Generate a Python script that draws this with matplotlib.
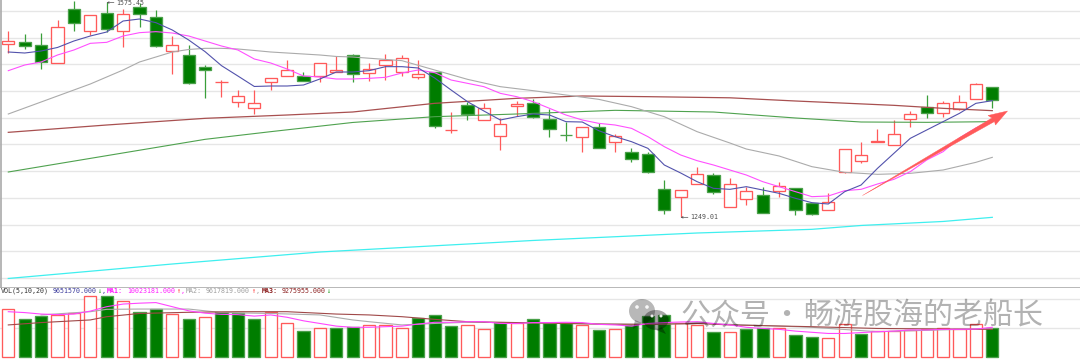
import matplotlib
matplotlib.use("Agg")
import matplotlib.pyplot as plt
from matplotlib.patches import Polygon, Ellipse
from matplotlib.transforms import Affine2D

UP = "#ff5a5a"
DOWN = "#007d00"

# bar numbers 1..61
opens = [1508.5,1512,1507,1481,1562,1528.5,1556,1528.5,1565,1550,1499,1492,1474,1451.5,1421.5,1413.5,1451.5,1461.5,1461,1461.5,1467.5,1492,
         1466,1478,1466.5,1459,1467.5,1379.3,1418,1394.5,1371.5,1415.5,1420,1396,1373,1369,1385,1362.5,1347,1343.5,1291.5,1280,1298.5,1312.5,
         1264,1277,1282.5,1289,1293.5,1270,1260,1316.5,1334,1362,1357,1397,1414,1405,1411.5,1426,1444]
closes = [1513,1505.5,1482,1534,1540.5,1553,1531.5,1554.5,1553.5,1506.5,1508,1450,1469.5,1452.5,1431,1421,1457.5,1469.5,1453.5,1480,1469.5,1464,
          1472,1485,1487.5,1464,1386.5,1380,1404,1412.5,1389,1419,1400,1382,1372,1384,1352.5,1370.5,1337,1316.5,1260,1289.5,1314,1286.5,
          1299,1288,1255,1296.5,1260,1254,1272.5,1351,1342,1363,1374,1403.5,1405,1421,1422,1449,1424.5]
highs = [1528.5,1524,1525.5,1545,1574,1553,1572.7,1561.5,1570.5,1560,1521,1507.5,1477,1455,1440,1440,1457.5,1485,1467,1480,1491,1493.5,
         1480,1493.5,1492.5,1485,1467.5,1406.5,1422.5,1421,1397.5,1423,1426,1411,1392.5,1384,1390,1374,1353.5,1346.5,1304.5,1289.5,1325,1315,
         1307.5,1294,1294,1301.5,1293.5,1270,1285,1351,1361.5,1381,1395,1408,1432.5,1423.5,1432.5,1450,1444]
lows = [1495.5,1501.5,1471.5,1481,1528.5,1522.5,1527.5,1505,1534.5,1505,1463.5,1448.5,1428.5,1430,1415,1403.5,1440,1461.5,1453.5,1452.5,1467.5,1451.5,
        1453,1455,1461.5,1456.5,1383.5,1375,1395,1394.5,1350,1401,1398.5,1370,1364,1347.5,1352.5,1346.5,1331.5,1315.5,1253.5,1249.01,1298.5,1284,
        1264,1268,1255,1280,1253,1252.5,1260,1315.5,1331,1362,1357,1385,1397.5,1400,1410,1426,1413.5]

ma5 = [1497,1495.5,1498.5,1503.8,1513.5,1521,1527,1543.5,1546.5,1541,1530,1515,1497.5,1476.5,1461,1445.3,1446,1446,1447.5,1456.5,1467,1467,
       1469,1475,1475,1473,1458,1440,1422.5,1408.5,1395,1400,1404,1402.5,1392.5,1392,1379,1370,1362.5,1352.5,1327.5,1315.5,1302.5,1292.5,
       1291,1295,1290,1285,1277.5,1271,1269,1287.5,1297.5,1322.5,1345,1367.5,1380,1392.5,1405,1420,1424]
ma10 = [1469,1477.5,1482,1492.5,1500,1510,1511.5,1521,1526,1527.5,1525.5,1521,1513.5,1506,1500,1486.5,1480.5,1471.5,1461,1459.5,1456.5,1456.5,
        1457.5,1459,1465.5,1470,1466,1455,1450,1445,1435,1430,1422.5,1412.5,1402.5,1395,1390,1387.5,1382.5,1370,1355,1342.5,1334,1327.5,
        1320,1312.5,1302.5,1295,1287.5,1280,1281,1289,1291,1299,1306,1317.5,1335,1347.5,1368,1383,1395]
ma20_bars = [1,2,3,4,5,6,7,8,9,10,11,12,13,14,15,16,17,18,19,20,21,22,25,27,29,31,33,35,37,39,41,43,45,46,48,50,52,54,56,58,60,61]
ma20 = [1404,1413,1422,1431,1440,1449,1459.5,1470,1482,1489.5,1497,1500.8,1502.5,1502.5,1501.5,1499.3,1497,1495.5,1494,1492.5,1490.3,1489.5,
        1484,1470,1456,1445,1439,1432.5,1426,1415,1400,1377.5,1360.5,1351.5,1341,1325,1316.5,1313.5,1315,1320,1331.5,1339]
ma60_bars = [1,7,13,18,22,27,32,36,40,45,49,55,58,61]
ma60 = [1376.5,1387.5,1397.5,1402.5,1407,1420,1427.5,1431,1430,1428.3,1423.5,1417,1412.5,1409]
ma120_bars = [1,13,17,22,27,32,38,44,49,53,57,61]
ma120 = [1317,1366,1377.5,1391.3,1400,1404,1409.5,1407,1398,1392,1391.5,1392.5]
ma250_bars = [1,11,20,33,43,50,53,58,61]
ma250 = [1157.3,1179,1197,1214.3,1225.5,1231,1236.8,1242.8,1249]

# volume, millions of shares
volume = [16.1,12.7,13.9,14.2,15.0,20.7,20.5,19.0,15.2,16.1,14.5,12.9,13.5,15.3,15.0,12.7,15.1,11.6,8.8,9.6,9.7,10.0,
          10.8,10.8,9.6,13.3,14.1,10.4,10.8,9.4,11.6,11.3,12.7,11.6,11.6,10.7,9.1,9.5,10.8,13.8,14.1,11.3,10.8,8.4,
          8.4,9.4,9.6,9.6,7.5,6.6,6.2,11.0,7.8,8.8,8.8,9.1,9.3,9.6,9.3,11.0,9.65]
vol_up = "rggrrrgrggrgrgggrrgrgg" "rrrgggrrgrgggrgrggg" "rrg" "rggrggrrgrrrrrrrg"
vol_ma1 = [15.3,15.0,14.5,14.3,14.5,15.5,17.0,17.9,18.2,18.4,17.0,15.6,14.8,14.4,14.3,13.8,14.2,13.4,12.2,11.3,10.4,10.0,
           10.0,10.2,10.4,11.1,11.7,11.7,11.9,11.9,11.3,11.3,11.6,11.6,11.7,11.6,11.0,10.8,10.4,11.3,11.6,11.8,11.9,11.3,
           10.8,10.0,9.6,9.3,8.7,8.3,7.9,7.9,8.2,8.5,8.7,9.1,9.1,9.3,9.3,9.4,10.0]
vol_ma2_bars = [3,6,7,9,12,14,17,20,22,23,25,27,29,32,37,40,43,45,50,54,61]
vol_ma2 = [14.2,15.3,16.1,16.2,16.2,15.0,14.7,14.2,12.5,11.9,10.8,11.3,11.7,11.6,11.1,11.0,11.3,11.0,10.0,8.5,9.6]
vol_ma3_bars = [1,3,6,7,9,12,15,18,21,23,25,27,29,32,37,40,43,45,50,54,61]
vol_ma3 = [10.8,11.6,12.5,13.6,14.7,15.1,15.3,15.3,14.5,14.2,13.6,12.7,11.9,11.6,11.1,11.0,11.3,10.8,10.2,9.6,9.3]

price_grid = [1558.5,1518.5,1478.4,1438.4,1398.3,1358.3,1318.2,1278.2,1238.1,1198.1,1158]
vol_grid = [19.6,9.75]
high_label = "1575.45"
low_label = "1249.01"

W, H = 1080, 360
fig = plt.figure(figsize=(W/100, H/100), dpi=100, facecolor="white")
split = 287
xlim = (1 - 8.3/16.4, 1 + (W - 8.3)/16.4)
ax = fig.add_axes([0, 1 - split/H, 1, split/H])
axv = fig.add_axes([0, 0, 1, 1 - split/H])
ax.set_xlim(xlim); axv.set_xlim(xlim)
ax.set_ylim(1575 - 1.5*split, 1575)
axv.set_ylim(-(H-356.7)*0.34, (356.7-split)*0.34)
for a in (ax, axv):
    a.set_xticks([]); a.set_yticks([])
    for s in a.spines.values():
        s.set_visible(False)
for g in price_grid:
    ax.axhline(g, color="#e6e6e6", lw=1.0, zorder=1)
for g in vol_grid:
    axv.axhline(g, color="#e6e6e6", lw=1.0, zorder=1)
axv.axhline((356.7-split)*0.34, color="#b8b8b8", lw=1.4, zorder=1)

n = len(opens)
bars = list(range(1, n+1))
bw = 12.3/16.4
for i in range(n):
    up = closes[i] >= opens[i]
    col = UP if up else DOWN
    ax.vlines(bars[i], lows[i], highs[i], color=col if up else "#3a9f3a", lw=0.9, zorder=2)
    lo, hi = sorted((opens[i], closes[i]))
    ax.bar(bars[i], hi-lo, bottom=lo, width=bw, facecolor="white" if up else DOWN,
           edgecolor=col if up else "#4aa04a", linewidth=0.95, zorder=3)
    vr = vol_up[i] == "r"
    axv.bar(bars[i], volume[i], width=bw, facecolor="white" if vr else DOWN,
            edgecolor=UP if vr else "#4aa04a", linewidth=0.95, zorder=3)

ax.plot(ma250_bars, ma250, color="#3fefef", lw=0.9, zorder=4)
ax.plot(ma120_bars, ma120, color="#4fa24f", lw=0.8, zorder=4)
ax.plot(ma60_bars, ma60, color="#a85050", lw=0.9, zorder=4)
ax.plot(ma20_bars, ma20, color="#ababab", lw=0.8, zorder=4)
ax.plot(bars, ma10, color="#ff50ff", lw=0.8, zorder=5)
ax.plot(bars, ma5, color="#5252ac", lw=0.8, zorder=6)
axv.plot(vol_ma2_bars, vol_ma2, color="#ababab", lw=0.8, zorder=4)
axv.plot(vol_ma3_bars, vol_ma3, color="#a04848", lw=0.8, zorder=5)
axv.plot(bars, vol_ma1, color="#ff45ff", lw=0.8, zorder=6)

mono = "DejaVu Sans Mono"
ann = dict(fontsize=4.8, family=mono, color="#505050", va="center", ha="left", annotation_clip=False,
           textcoords="offset pixels", zorder=7,
           arrowprops=dict(arrowstyle="->", lw=0.5, color="#505050", shrinkA=0, shrinkB=0, mutation_scale=3))
ax.annotate(high_label, xy=(7, highs[6]-1.5), xytext=(10, 0), **ann)
ax.annotate(low_label, xy=(42, lows[41]), xytext=(10, 0), **ann)

def px(x): return x / W
def py(y): return 1 - y / H
header = [("VOL(5,10,20)", 1, "#303030", "normal"), ("9651570.000", 52.7, "#3a3a9c", "normal"), ("↓", 97.5, "#1c9a1c", "normal"), (",", 102, "#3a3a9c", "normal"),
          ("MA1:", 107, "#ff20ff", "bold"), ("10023181.000", 127.7, "#ff20ff", "normal"), ("↑", 176.5, "#ff3030", "normal"), (",", 181, "#ff20ff", "normal"),
          ("MA2:", 186, "#a0a0a0", "normal"), ("9617819.000", 206, "#a0a0a0", "normal"), ("↑", 251.5, "#ff3030", "normal"), (",", 256, "#a0a0a0", "normal"),
          ("MA3:", 261.7, "#8c2020", "bold"), ("9275955.000", 281.7, "#8c2020", "normal"), ("↓", 326.5, "#1c9a1c", "normal")]
for t, x, c, w in header:
    fig.text(px(x), py(291), t, color=c, fontsize=4.8, family=mono, weight=w, va="center", ha="left", zorder=8)

pix = Affine2D().scale(1/W, -1/H).translate(0, 1) + fig.transFigure
arrow_outline = [(862.5,195.5),(992,118),(988,115.5),(1007.5,111),(995.5,125),(994.5,121.5)]
fig.add_artist(Polygon(arrow_outline, closed=True, transform=pix, facecolor="#ff5a5a", edgecolor="#ff5a5a", lw=0.3, zorder=9))

wm = "#000000"
fig.add_artist(Ellipse((642,311), 26, 24, transform=pix, facecolor=wm, alpha=0.28, lw=0, zorder=9))
fig.add_artist(Ellipse((656,320), 25, 20, transform=pix, facecolor=wm, alpha=0.34, lw=0, zorder=9))
fig.add_artist(Polygon([(635,320),(633,329),(642,323)], closed=True, transform=pix, facecolor=wm, alpha=0.28, lw=0, zorder=9))
fig.add_artist(Polygon([(662,327),(666,334),(656,330)], closed=True, transform=pix, facecolor=wm, alpha=0.34, lw=0, zorder=9))
for (cx, cy, r) in [(637,307,1.8),(647,307,1.8),(652,316,1.5),(661,316,1.5)]:
    fig.add_artist(Ellipse((cx,cy), 2*r, 2*r, transform=pix, facecolor="white", alpha=0.9, lw=0, zorder=10))
cjk = ["Noto Sans CJK SC", "DejaVu Sans"]
for t, x, ha in [("公众号", 680, "left"), ("·", 786, "center"), ("畅游股海的老船长", 803, "left")]:
    fig.text(px(x), py(316), t, color=wm, alpha=0.3, fontsize=21.6, family=cjk, va="center", ha=ha, zorder=10)

fig.add_artist(plt.Line2D([0.7/W, 0.7/W], [1 - split/H, 1], color="#aaaaaa", lw=1.2, zorder=8))
fig.savefig("out.png", dpi=100, facecolor="white")
